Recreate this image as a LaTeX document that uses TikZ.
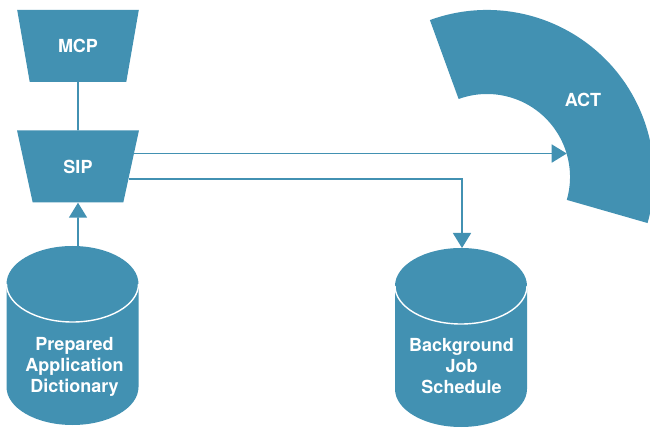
\documentclass[tikz,border=0pt]{standalone}
\usepackage{fontspec}
\setmainfont{TeX Gyre Heros}
\usetikzlibrary{shapes.geometric,arrows.meta,calc}
\definecolor{hpblue}{HTML}{4291B2}
% Database drum: #1 centre x, #2 top-face centre y, #3 bottom-face centre y
\newcommand\dbdrum[3]{%
  \fill[hpblue] (#1-66,#2) -- (#1-66,#3)
    arc[start angle=180,end angle=360,x radius=66,y radius=38]
    -- (#1+66,#2)
    arc[start angle=0,end angle=180,x radius=66,y radius=38] -- cycle;
  \draw[white,line width=1.4pt] (#1-66,#2)
    arc[start angle=180,end angle=360,x radius=66,y radius=38];
}
\begin{document}
\begin{tikzpicture}[x=1pt,y=1pt,
  labeltext/.style={text=white, font=\fontsize{18}{21}\selectfont\bfseries,
    align=center},
  proc/.style={labeltext, trapezium, shape border rotate=180, trapezium angle=72,
    trapezium stretches=true, minimum width=122pt, minimum height=72pt,
    inner sep=2pt, fill=hpblue, draw=none},
  link/.style={draw=hpblue, line width=1.6pt},
  tip/.style={-{Triangle[width=18pt,length=15pt]}}]
\useasboundingbox (0,0) rectangle (650,428);
\begin{scope}
\clip (0,0) rectangle (650,428);

% processes
\node[proc] (mcp) at (78,382) {MCP};
\node[proc] (sip) at (78,261.5) {SIP};

% ACT ring segment
\coordinate (actc) at (487,251);
\fill[hpblue] ($(actc)+(110:167)$) arc[start angle=110,end angle=-16,radius=167]
  -- ($(actc)+(-16:83)$) arc[start angle=-16,end angle=110,radius=83] -- cycle;
\coordinate (actport) at ($(actc)+(16.1:83)$);
\node[labeltext] (act) at (583,328) {ACT};

% data stores
\dbdrum{72.5}{144}{41}
\dbdrum{461}{142}{39}
\coordinate (padtop) at (78,182);
\coordinate (bjstop) at (462,180);
\node[labeltext] (pad) at (74.5,61.5) {Prepared\\Application\\Dictionary};
\node[labeltext] (bjs) at (461.5,61.5) {Background\\Job\\Schedule};

% connectors
\draw[link] (mcp.south) -- (sip.north);
\draw[link,tip] (padtop) -- (sip.south);
\draw[link,tip] (sip.13) -- (sip.13 -| actport);
\draw[link,tip] (sip.-14) -| (bjstop);
\end{scope}
\end{tikzpicture}
\end{document}
